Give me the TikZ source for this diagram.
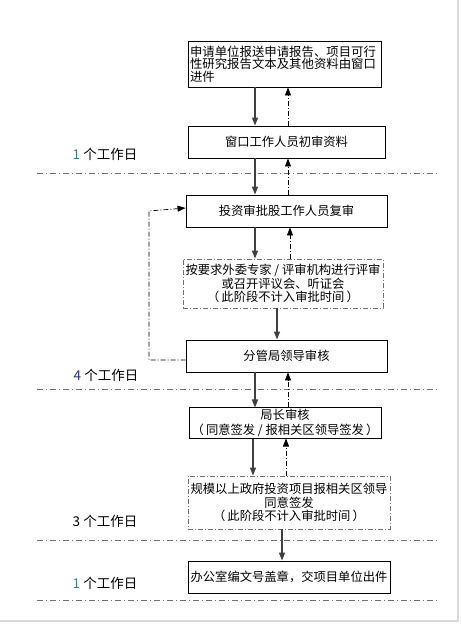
\documentclass[tikz,border=0pt]{standalone}
\usepackage{fontspec}
\setmainfont{Noto Sans CJK SC}
\usetikzlibrary{arrows.meta}
\definecolor{linegray}{HTML}{404040}
\definecolor{sepgray}{HTML}{707070}
\definecolor{digitteal}{HTML}{3A7F8C}
\definecolor{digitblue}{HTML}{22337A}
\begin{document}
\begin{tikzpicture}[x=1pt,y=-1pt,
  box/.style={draw=black,line width=0.9pt,inner sep=1.5pt,align=center,font=\fontsize{12.3}{13.5}\selectfont},
  dbox/.style={box,draw=sepgray,dash pattern=on 5pt off 2pt on 1pt off 2pt},
  flow/.style={draw=linegray,line width=1.4pt,-{Triangle[length=8pt,width=6pt]}},
  back/.style={draw=black,line width=0.7pt,dash pattern=on 5pt off 2pt on 1pt off 2pt,-{Triangle[length=8pt,width=6pt]}},
  sep/.style={draw=sepgray,line width=0.9pt,dash pattern=on 6pt off 3pt on 1pt off 3pt},
  daylbl/.style={font=\fontsize{13.5}{15}\selectfont,inner sep=0pt}]
\useasboundingbox (0,0) rectangle (461,630);
\fill[white] (0,0) rectangle (461,630);
% frame shadow
\draw[draw=black!15,line width=2pt] (458,0) -- (458,621) -- (0,621);

% nodes
\node[box,minimum width=193pt,minimum height=46pt,text width=189pt,align=left,font=\fontsize{12.4}{12.6}\selectfont] (b1) at (284.5,64)
  {申请单位报送申请报告、项目可行\\性研究报告文本及其他资料由窗口\\进件};
\node[box,minimum width=197pt,minimum height=32pt] (b2) at (286.5,142) {窗口工作人员初审资料};
\node[box,minimum width=201pt,minimum height=32pt] (b3) at (286.5,211) {投资审批股工作人员复审};
\node[dbox,minimum width=200pt,minimum height=49pt] (b4) at (283,283.5)
  {按要求外委专家 / 评审机构进行评审\\或召开评议会、听证会\\（\,此阶段不计入审批时间\,）};
\node[box,minimum width=201pt,minimum height=32pt] (b5) at (286.5,356) {分管局领导审核};
\node[box,minimum width=192pt,minimum height=30pt,font=\fontsize{12.3}{14.5}\selectfont] (b6) at (285,423)
  {局长审核\\（\,同意签发 / 报相关区领导签发\,）};
\node[dbox,minimum width=202pt,minimum height=53pt] (b7) at (289,502.5)
  {规模以上政府投资项目报相关区领导\\同意签发\\（\,此阶段不计入审批时间\,）};
\node[box,minimum width=202pt,minimum height=32pt] (b8) at (289,577) {办公室编文号盖章，交项目单位出件};

% day labels
\node[daylbl] (d1) at (105,154) {\textcolor{digitteal}{1} 个工作日};
\node[daylbl] (d2) at (106,375) {\textcolor{digitblue}{4} 个工作日};
\node[daylbl] (d3) at (105,521) {3 个工作日};
\node[daylbl] (d4) at (105,583) {\textcolor{digitteal}{1} 个工作日};

% separators
\draw[sep] (37,173) -- (437,173);
\draw[sep] (37,389) -- (437,389);
\draw[sep] (37,540) -- (437,540);
\draw[sep] (37,600) -- (437,600);

% x positions for connectors
\coordinate (xa) at (255,0);
\coordinate (xb) at (288,0);
\coordinate (xc) at (290,0);
\coordinate (xd) at (277,0);
\coordinate (xe) at (253,0);
\coordinate (xf) at (286,0);
\coordinate (xg) at (282,0);
\coordinate (loopx) at (149,0);

\draw[flow] (b1.south -| xa) -- (b2.north -| xa);
\draw[back] (b2.north -| xb) -- (b1.south -| xb);
\draw[flow] (b2.south -| xa) -- (b3.north -| xa);
\draw[back] (b3.north -| xb) -- (b2.south -| xb);
\draw[flow] (b3.south -| xa) -- (b4.north -| xa);
\draw[back] (b4.north -| xc) -- (b3.south -| xc);
\draw[flow] (b4.south -| xd) -- (b5.north -| xd);
\draw[back] ([yshift=-4pt]b5.west) -| (loopx |- b3.west) -- ([yshift=3pt]b3.west);
\draw[flow] (b5.south -| xa) -- (b6.north -| xa);
\draw[back] (b6.north -| xb) -- (b5.south -| xb);
\draw[flow] (b6.south -| xe) -- (b7.north -| xe);
\draw[back] (b7.north -| xf) -- (b6.south -| xf);
\draw[flow] (b7.south -| xg) -- (b8.north -| xg);
\end{tikzpicture}
\end{document}
